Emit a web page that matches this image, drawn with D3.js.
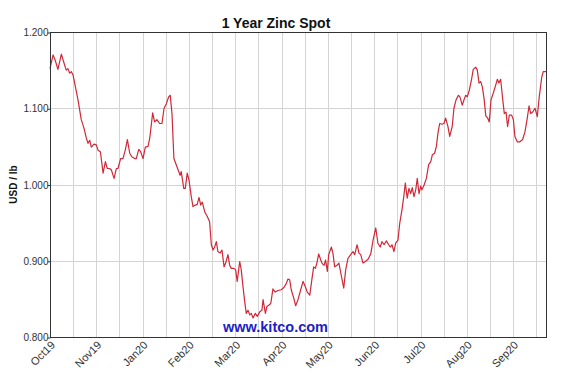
<!DOCTYPE html>
<html>
<head>
<meta charset="utf-8">
<script src="https://cdn.jsdelivr.net/npm/d3@7"></script>
<style>
  body { margin: 0; background: #fff; }
  svg { display: block; }
</style>
</head>
<body>
<svg id="chart" width="572" height="389"></svg>
<script>

// trading day index (0 = start of Oct19) and zinc price
var days = [0, 1.6, 2.7, 4.1, 5.9, 7.3, 8.4, 9.3, 10.2, 11.0, 11.9, 12.8, 14.5, 16.2, 17.6, 18.8, 19.7, 20.6, 21.4, 22.8,
  24.0, 24.9, 26.1, 27.5, 28.7, 29.7, 30.9, 31.8, 33.2, 34.4, 35.2, 36.6, 37.8, 39.0, 40.1, 41.3, 42.5, 43.9, 44.7, 46.0,
  47.0, 48.2, 49.4, 50.8, 51.7, 53.2, 54.2, 55.4, 56.8, 58.0, 59.1, 60.3, 61.5, 62.3, 63.2, 64.2, 65.4, 66.7, 67.4, 68.0,
  69.3, 70.1, 71.1, 72.0, 73.2, 74.1, 75.3, 76.3, 77.2, 78.1, 78.9, 80.2, 81.5, 82.7, 83.6, 84.5, 85.3, 86.2, 87.0, 88.1,
  89.1, 90.2, 91.0, 92.2, 93.1, 93.9, 95.3, 96.2, 97.0, 98.3, 99.1, 100.0, 100.9, 101.7, 102.6, 103.5, 104.3, 105.2, 106.4, 107.4,
  108.7, 109.8, 110.4, 111.6, 112.4, 113.5, 114.4, 115.5, 116.7, 118.1, 119.8, 121.2, 122.4, 123.3, 124.2, 125.0, 126.3, 127.3, 128.5, 129.9,
  131.1, 132.3, 133.3, 134.6, 135.4, 136.6, 137.5, 138.3, 139.2, 140.3, 140.9, 142.0, 142.8, 143.7, 144.4, 145.8, 146.6, 147.5, 148.7, 149.7,
  150.9, 152.2, 153.2, 154.4, 155.8, 157.0, 157.9, 159.1, 160.1, 161.0, 162.2, 163.4, 164.8, 166.2, 167.4, 168.8, 169.9, 171.1, 172.0, 173.1,
  174.3, 175.5, 176.3, 177.2, 178.2, 179.1, 180.3, 181.2, 182.4, 183.3, 184.1, 185.1, 186.0, 186.9, 187.7, 188.6, 189.5, 190.3, 191.2, 192.1,
  192.7, 193.8, 195.0, 196.2, 197.3, 198.1, 199.3, 200.2, 201.0, 201.9, 203.1, 204.1, 205.0, 206.2, 207.1, 208.4, 209.3, 210.4, 211.6, 212.4,
  213.6, 214.5, 215.4, 216.2, 217.3, 218.5, 219.3, 220.6, 221.4, 222.3, 223.2, 224.0, 224.9, 225.8, 226.8, 227.6, 228.5, 229.7, 230.9, 231.8,
  232.6, 233.5, 234.6, 235.4, 236.3, 237.1, 238.0, 239.2, 240.1, 240.9, 242.1, 243.5, 244.9, 246.1, 247.3, 248.2, 249.1, 250.1, 251.3, 252.5,
  253.5, 254.8, 255.6, 257.0];

var prices = [1.152, 1.170, 1.163, 1.151, 1.171, 1.159, 1.150, 1.152, 1.146, 1.148, 1.144, 1.133, 1.111, 1.085, 1.074, 1.061, 1.054, 1.058, 1.049, 1.053,
  1.052, 1.045, 1.043, 1.015, 1.030, 1.021, 1.021, 1.019, 1.008, 1.021, 1.021, 1.034, 1.034, 1.045, 1.059, 1.041, 1.036, 1.034, 1.034, 1.046,
  1.043, 1.034, 1.049, 1.050, 1.061, 1.094, 1.082, 1.085, 1.080, 1.080, 1.100, 1.106, 1.115, 1.117, 1.093, 1.034, 1.026, 1.017, 1.012, 1.017,
  0.995, 0.995, 1.015, 1.006, 0.984, 0.971, 0.973, 0.974, 0.983, 0.973, 0.977, 0.964, 0.958, 0.951, 0.921, 0.914, 0.918, 0.925, 0.912, 0.910,
  0.914, 0.892, 0.897, 0.908, 0.894, 0.890, 0.890, 0.888, 0.873, 0.899, 0.888, 0.866, 0.846, 0.831, 0.835, 0.829, 0.831, 0.825, 0.831, 0.827,
  0.833, 0.835, 0.849, 0.831, 0.840, 0.842, 0.844, 0.863, 0.859, 0.861, 0.862, 0.865, 0.870, 0.876, 0.875, 0.862, 0.851, 0.841, 0.849, 0.862,
  0.873, 0.866, 0.859, 0.855, 0.870, 0.892, 0.890, 0.897, 0.909, 0.901, 0.897, 0.894, 0.901, 0.886, 0.908, 0.918, 0.910, 0.892, 0.894, 0.897,
  0.881, 0.864, 0.888, 0.903, 0.908, 0.912, 0.908, 0.921, 0.910, 0.908, 0.897, 0.899, 0.902, 0.909, 0.927, 0.943, 0.923, 0.918, 0.925, 0.921,
  0.926, 0.921, 0.918, 0.921, 0.912, 0.923, 0.927, 0.949, 0.967, 0.984, 1.002, 0.982, 0.995, 0.988, 0.996, 0.984, 0.993, 1.008, 0.988, 0.998,
  0.993, 0.999, 1.008, 1.026, 1.030, 1.039, 1.041, 1.050, 1.067, 1.080, 1.079, 1.080, 1.087, 1.076, 1.063, 1.076, 1.100, 1.111, 1.117, 1.115,
  1.104, 1.111, 1.117, 1.115, 1.124, 1.139, 1.151, 1.154, 1.150, 1.133, 1.135, 1.128, 1.113, 1.090, 1.087, 1.082, 1.111, 1.120, 1.130, 1.138,
  1.133, 1.138, 1.111, 1.093, 1.095, 1.076, 1.091, 1.091, 1.085, 1.063, 1.056, 1.056, 1.059, 1.069, 1.087, 1.103, 1.093, 1.095, 1.100, 1.089,
  1.115, 1.141, 1.148, 1.148];

var monthLabels = ["Oct19", "Nov19", "Jan20", "Feb20", "Mar20", "Apr20", "May20", "Jun20", "Jul20", "Aug20", "Sep20"];
var yTicks = [0.8, 0.9, 1.0, 1.1, 1.2];

const totalDays = 257;
const gridStep = 12;

const margin = {top: 32, right: 26, bottom: 52, left: 50};
const width = 572;
const height = 389;

const svg = d3.select("#chart");

const x = d3.scaleLinear()
    .domain([0, totalDays])
    .range([margin.left, width - margin.right]);

const y = d3.scaleLinear()
    .domain([0.8, 1.2])
    .range([height - margin.bottom, margin.top]);

// vertical grid every gridStep days
const gridDays = d3.range(gridStep, totalDays, gridStep);

svg.append("g")
    .attr("stroke", "#d4d4d4")
    .attr("stroke-width", 1)
  .selectAll("line")
  .data(gridDays)
  .join("line")
    .attr("x1", d => Math.round(x(d)) + 0.5)
    .attr("x2", d => Math.round(x(d)) + 0.5)
    .attr("y1", y(1.2))
    .attr("y2", y(0.8));

svg.append("g")
    .attr("stroke", "#d4d4d4")
    .attr("stroke-width", 1)
  .selectAll("line")
  .data(yTicks.slice(1, -1))
  .join("line")
    .attr("x1", x(0))
    .attr("x2", x(totalDays))
    .attr("y1", d => Math.round(y(d)) + 0.5)
    .attr("y2", d => Math.round(y(d)) + 0.5);

// price line
const line = d3.line()
    .x((d, i) => x(days[i]))
    .y(d => y(d));

svg.append("path")
    .datum(prices)
    .attr("fill", "none")
    .attr("stroke", "#d02838")
    .attr("stroke-width", 1.2)
    .attr("stroke-linejoin", "round")
    .attr("d", line);

// frame
svg.append("rect")
    .attr("x", x(0) + 0.5)
    .attr("y", y(1.2) + 0.5)
    .attr("width", x(totalDays) - x(0))
    .attr("height", y(0.8) - y(1.2))
    .attr("fill", "none")
    .attr("stroke", "#333")
    .attr("stroke-width", 1);

// y axis
const yAxis = d3.axisLeft(y)
    .tickValues(yTicks)
    .tickSize(3)
    .tickFormat(d3.format(".3f"));

const gy = svg.append("g")
    .attr("transform", `translate(${x(0) + 0.5},0.5)`)
    .call(yAxis);
gy.select(".domain").remove();
gy.selectAll("line").attr("stroke", "#333");
gy.selectAll("text")
    .attr("fill", "#333")
    .attr("font-family", "Liberation Sans, Arial, sans-serif")
    .attr("font-size", 10)
    .attr("x", -2);

// x labels, one every two grid steps
svg.append("g")
    .attr("font-family", "Liberation Sans, Arial, sans-serif")
    .attr("font-size", 11)
    .attr("fill", "#333")
  .selectAll("text")
  .data(monthLabels)
  .join("text")
    .attr("text-anchor", "end")
    .attr("dy", "0.35em")
    .attr("transform", (d, i) => `translate(${x(i * gridStep * 2) + 3},${y(0.8) + 6}) rotate(-45)`)
    .text(d => d);

// titles
svg.append("text")
    .attr("x", 276)
    .attr("y", 28)
    .attr("text-anchor", "middle")
    .attr("font-family", "Liberation Sans, Arial, sans-serif")
    .attr("font-size", 14)
    .attr("font-weight", "bold")
    .attr("fill", "#111")
    .text("1 Year Zinc Spot");

svg.append("text")
    .attr("transform", `translate(17,${(y(0.8) + y(1.2)) / 2}) rotate(-90)`)
    .attr("text-anchor", "middle")
    .attr("font-family", "Liberation Sans, Arial, sans-serif")
    .attr("font-size", 10)
    .attr("font-weight", "bold")
    .attr("fill", "#111")
    .text("USD / lb");

svg.append("text")
    .attr("x", 275.5)
    .attr("y", 331.5)
    .attr("text-anchor", "middle")
    .attr("font-family", "Liberation Sans, Arial, sans-serif")
    .attr("font-size", 14.5)
    .attr("font-weight", "bold")
    .attr("fill", "#1e1ec4")
    .text("www.kitco.com");

</script>
</body>
</html>
